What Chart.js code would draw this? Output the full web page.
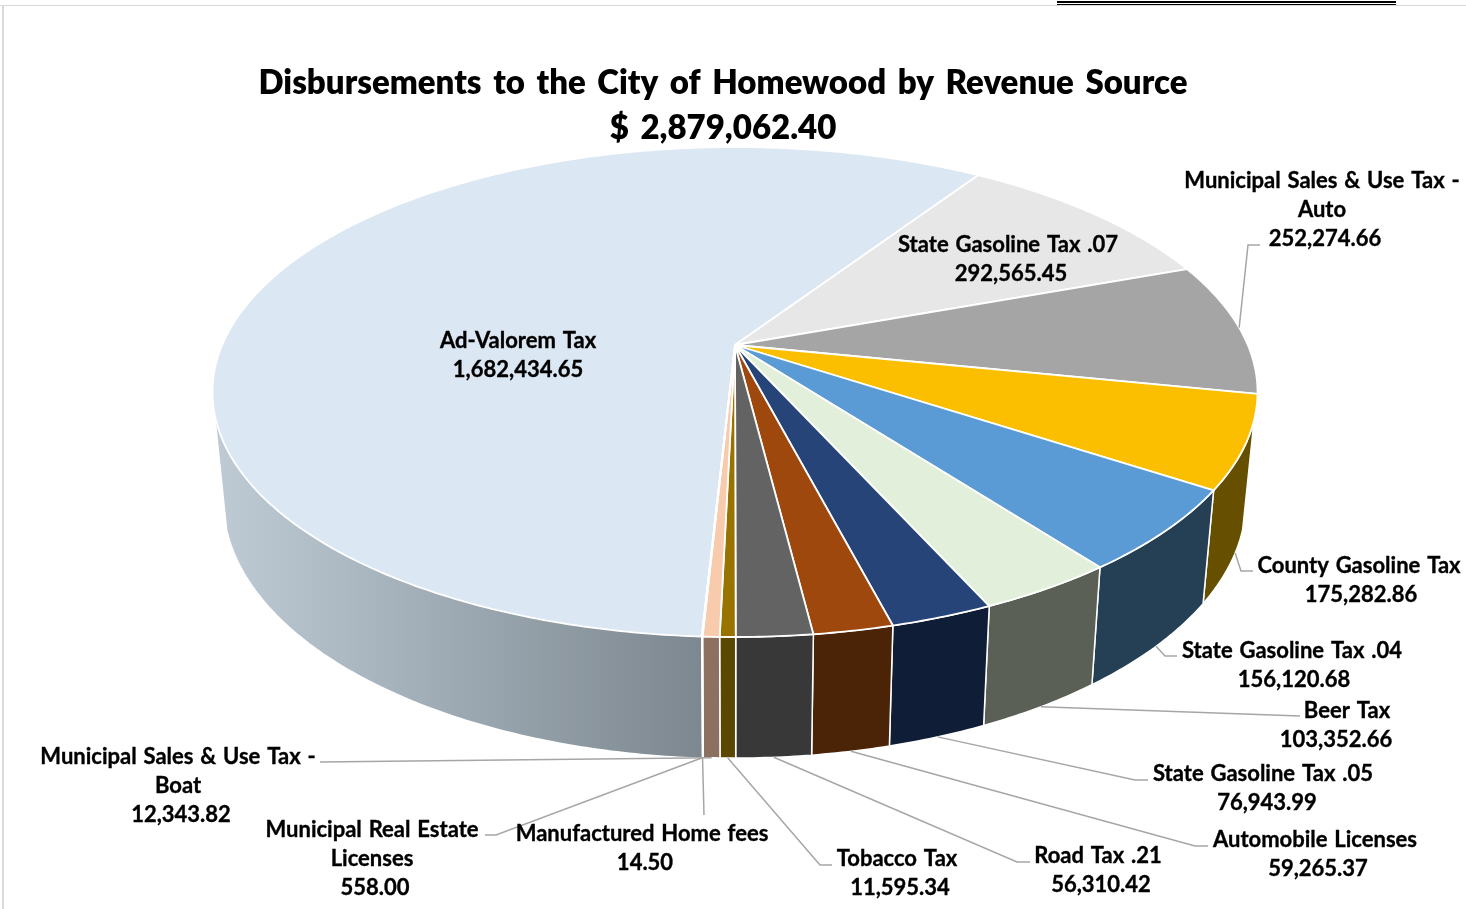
<!DOCTYPE html>
<html>
<head>
<meta charset="utf-8">
<title>Disbursements to the City of Homewood</title>
<script src="https://cdn.jsdelivr.net/npm/chart.js@4"></script>
<style>
    html, body { margin: 0; padding: 0; background: #fff; overflow: hidden; }
    canvas { position: absolute; left: 0; top: 0; }
    .frame-top { position: absolute; left: 0; top: 5px; width: 1466px; height: 1px; background: #d9d9d9; }
    .frame-left { position: absolute; left: 2px; top: 5px; width: 2px; height: 904px; background: #d9d9d9; }
    .rule-a { position: absolute; left: 1057px; top: 1px; width: 339px; height: 2px; background: #000; }
    .rule-b { position: absolute; left: 1057px; top: 4px; width: 339px; height: 1px; background: #000; }
</style>
</head>
<body>
<canvas id="revenueChart" width="1466" height="909"></canvas>
<div class="frame-top"></div>
<div class="frame-left"></div>
<div class="rule-a"></div>
<div class="rule-b"></div>
<script>
// Chart values, clockwise starting with the big slice
const categories = ['Ad-Valorem Tax', 'State Gasoline Tax .07', 'Municipal Sales & Use Tax - Auto', 'County Gasoline Tax',
    'State Gasoline Tax .04', 'Beer Tax', 'State Gasoline Tax .05', 'Automobile Licenses', 'Road Tax .21', 'Tobacco Tax',
    'Municipal Sales & Use Tax - Boat', 'Municipal Real Estate Licenses', 'Manufactured Home fees'];
const amounts = [1682434.65, 292565.45, 252274.66, 175282.86, 156120.68, 103352.66, 76943.99, 59265.37, 56310.42, 11595.34, 12343.82, 558.00, 14.50];
const titleLines = ['Disbursements to the City of Homewood by Revenue Source', '$ 2,879,062.40'];

const topColors = ['#dbe7f3', '#e7e7e7', '#a5a5a5', '#fcbf00', '#5b9bd5', '#e2efda', '#264478', '#9e480e', '#636363', '#997300', '#f8cbad', '#70ad47', '#4472c4'];
const wallColors = [null, '#8a8a8a', '#636363', '#665000', '#253f55', '#5a6055', '#0f1d36', '#4b2407', '#383838', '#5a4800', '#8d7160', '#43682b', '#2a4476'];

// How each label breaks into lines
const labelLines = [['Ad-Valorem Tax'], ['State Gasoline Tax .07'], ['Municipal Sales & Use Tax -', 'Auto'], ['County Gasoline Tax'],
    ['State Gasoline Tax .04'], ['Beer Tax'], ['State Gasoline Tax .05'], ['Automobile Licenses'], ['Road Tax .21'], ['Tobacco Tax'],
    ['Municipal Sales & Use Tax -', 'Boat'], ['Municipal Real Estate', 'Licenses'], ['Manufactured Home fees']];

// Label placement: centre x per line, centre y of the first line
const labelX = [[518, 518], [1008, 1011], [1322, 1322, 1325], [1359, 1361], [1292, 1294], [1347, 1336], [1263, 1267], [1315, 1318],
    [1098, 1101], [897, 900], [178, 178, 181], [372, 372, 375], [642, 645]];
const labelY = [341, 245, 181, 566, 651, 711, 774, 840, 856, 859, 757, 830, 834];
const labelLineHeight = 29;

// Leader lines: the points after the slice anchor. Empty means no leader.
const leaderPoints = [[], [], [[1248, 245], [1260, 245]], [[1241, 571], [1253, 571]], [[1165, 656], [1177, 656]], [[1300, 716]],
    [[1135, 780], [1148, 780]], [[1195, 846], [1208, 846]], [[1017, 862], [1030, 862]], [[820, 865], [832, 865]],
    [[320, 762]], [[496, 835], [485, 835]], [[704, 815]]];

// Perspective view of the pie disc: front of the disc is closer than the back
const view = {
    cx: 735,
    perspective: -0.192,
    wallFrom: 0.3,
    top: { rx: 512.8, y0: 345, ky: 169.7 },
    bottom: { rx: 501.5, y0: 450.7, ky: 161.8 }
};

function project(angle, disc) {
    const u = Math.cos(angle);
    const v = Math.sin(angle);
    const d = 1 + view.perspective * v;
    return { x: view.cx + disc.rx * u / d, y: (disc.y0 + disc.ky * v) / d };
}

function arcPoints(start, end, disc) {
    const steps = Math.max(2, Math.ceil((end - start) / 0.01));
    const pts = [];
    for (let i = 0; i <= steps; i++) {
        pts.push(project(start + (end - start) * i / steps, disc));
    }
    return pts;
}

function tracePath(ctx, pts) {
    ctx.beginPath();
    pts.forEach((p, i) => i ? ctx.lineTo(p.x, p.y) : ctx.moveTo(p.x, p.y));
    ctx.closePath();
}

// Overlap of a slice with the part of the rim where the wall shows
function wallRange(start, end) {
    const low = Math.asin(view.wallFrom);
    const high = Math.PI - low;
    const ranges = [];
    for (const shift of [0, Math.PI * 2, -Math.PI * 2]) {
        const a = Math.max(start, low + shift);
        const b = Math.min(end, high + shift);
        if (b > a) ranges.push([a, b]);
    }
    return ranges;
}

const pie3d = {
    id: 'pie3d',
    beforeDraw(chart) {
        // The title plugin has no spacing option, so set it on the context
        chart.ctx.wordSpacing = '4px';
    },
    beforeDatasetsDraw(chart) {
        const ctx = chart.ctx;
        const arcs = chart.getDatasetMeta(0).data;
        ctx.save();
        ctx.lineJoin = 'round';

        // Walls first
        arcs.forEach((arc, i) => {
            wallRange(arc.startAngle, arc.endAngle).forEach(([a, b]) => {
                const pts = arcPoints(a, b, view.top).concat(arcPoints(a, b, view.bottom).reverse());
                tracePath(ctx, pts);
                if (i === 0) {
                    const g = ctx.createLinearGradient(216, 0, 703, 0);
                    g.addColorStop(0, '#becbd5');
                    g.addColorStop(1, '#7c878f');
                    ctx.fillStyle = g;
                } else {
                    ctx.fillStyle = wallColors[i];
                }
                ctx.fill();
                if (i > 0) {
                    ctx.strokeStyle = '#fff';
                    ctx.lineWidth = 1.5;
                    ctx.stroke();
                }
            });
        });

        // Top face
        arcs.forEach((arc, i) => {
            const apex = { x: view.cx, y: view.top.y0 };
            tracePath(ctx, [apex].concat(arcPoints(arc.startAngle, arc.endAngle, view.top)));
            ctx.fillStyle = topColors[i];
            ctx.fill();
            ctx.strokeStyle = '#fff';
            ctx.lineWidth = 1.8;
            ctx.stroke();
        });

        ctx.restore();
        return false; // the slices above replace the flat pie
    },
    afterDraw(chart) {
        const ctx = chart.ctx;
        const arcs = chart.getDatasetMeta(0).data;
        ctx.save();

        // Leader lines
        ctx.strokeStyle = '#a6a6a6';
        ctx.lineWidth = 1.5;
        arcs.forEach((arc, i) => {
            if (!leaderPoints[i].length) return;
            const mid = (arc.startAngle + arc.endAngle) / 2;
            const anchor = project(mid, i === 2 ? view.top : view.bottom);
            ctx.beginPath();
            ctx.moveTo(anchor.x, anchor.y);
            leaderPoints[i].forEach(p => ctx.lineTo(p[0], p[1]));
            ctx.stroke();
        });

        // Data labels
        ctx.fillStyle = '#000';
        ctx.strokeStyle = '#000';
        ctx.lineWidth = 0.35;
        ctx.font = 'bold 22px Lato';
        ctx.wordSpacing = '1.5px';
        ctx.textAlign = 'center';
        ctx.textBaseline = 'middle';
        categories.forEach((name, i) => {
            const value = amounts[i].toLocaleString('en-US', { minimumFractionDigits: 2, maximumFractionDigits: 2 });
            labelLines[i].concat(value).forEach((line, n) => {
                const y = labelY[i] + n * labelLineHeight;
                ctx.fillText(line, labelX[i][n], y);
                ctx.strokeText(line, labelX[i][n], y);
            });
        });
        ctx.restore();
    }
};

const chart = new Chart(document.getElementById('revenueChart'), {
    type: 'pie',
    plugins: [pie3d],
    data: {
        labels: categories,
        datasets: [{ data: amounts, backgroundColor: topColors, borderColor: '#fff' }]
    },
    options: {
        responsive: false,
        animation: false,
        rotation: 183,
        layout: { padding: { right: 20 } },
        plugins: {
            legend: { display: false },
            tooltip: { enabled: false },
            title: {
                display: true,
                text: titleLines,
                color: '#000',
                font: { family: 'Lato', size: 33, weight: '800', lineHeight: 1.36 },
                padding: { top: 61, bottom: 0 }
            }
        }
    }
});
</script>
</body>
</html>
